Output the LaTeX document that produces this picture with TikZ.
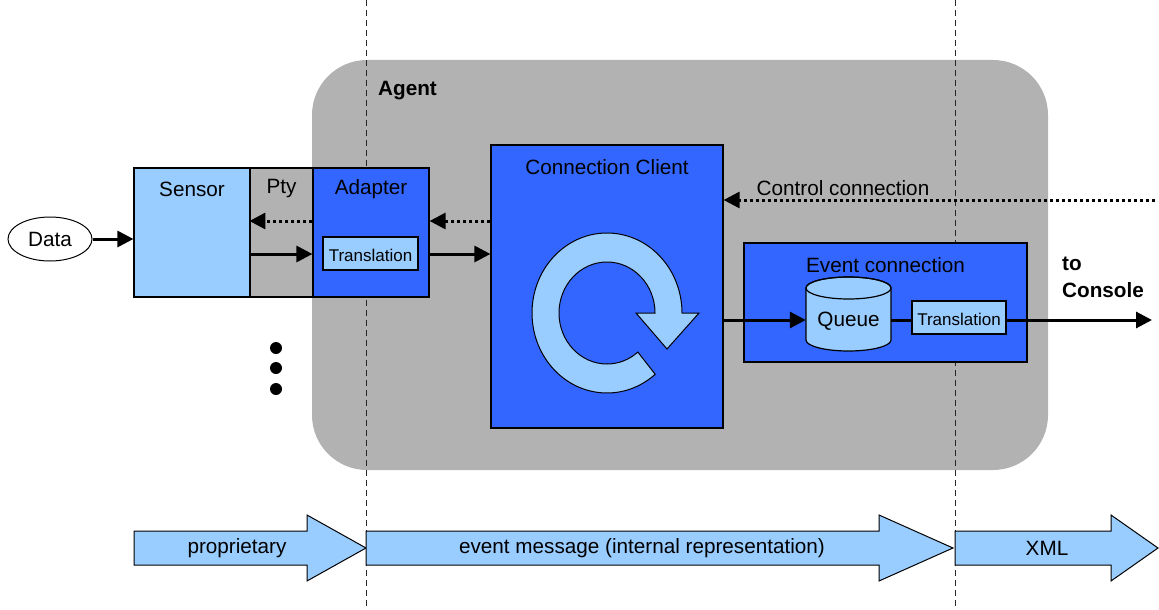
\documentclass[tikz,border=0pt]{standalone}
\usepackage{fontspec}
\setmainfont{Liberation Sans}
\usetikzlibrary{arrows.meta,shapes.geometric}
\definecolor{lblue}{HTML}{99CCFF}
\definecolor{dblue}{HTML}{3366FF}
\definecolor{agray}{HTML}{B2B2B2}
\begin{document}
\begin{tikzpicture}[x=1pt,y=-1pt,
  box/.style={draw=black, line width=1.2pt, inner sep=0pt},
  arr/.style={line width=3pt, -{Triangle[length=16pt,width=16pt]}},
  dotarr/.style={line width=3pt, dash pattern=on 3pt off 3pt, -{Triangle[length=16pt,width=16pt]}},
  plain/.style={line width=3pt},
  txt/.style={font=\fontsize{20.7}{24}\selectfont, inner sep=0pt},
  btxt/.style={font=\fontsize{20.7}{27}\selectfont\bfseries, inner sep=0pt},
  stxt/.style={font=\fontsize{17}{20}\selectfont, inner sep=0pt},
  vdash/.style={line width=1pt, dash pattern=on 6pt off 4pt, black!85},
  flow/.style={draw=black, line width=1pt, fill=lblue},
]
\useasboundingbox (0,0) rectangle (1159,610);

% Agent background
\fill[agray, rounded corners=55pt] (312,60) rectangle (1048,470);

% dashed boundaries
\coordinate (d1t) at (366,0); \coordinate (d1b) at (366,610);
\coordinate (d2t) at (955,0); \coordinate (d2b) at (955,610);
\draw[vdash] (d1t) -- (d1b);
\draw[vdash] (d2t) -- (d2b);

\node[txt, font=\fontsize{20.7}{24}\selectfont\bfseries, anchor=west] (agent) at (378,91) {Agent};

% left boxes
\node[draw=black, line width=1pt, fill=white, ellipse, minimum width=84pt, minimum height=44pt, inner sep=0pt] (data) at (50,239) {};
\node[txt] at (data) {Data};
\node[box, fill=lblue, minimum width=116pt, minimum height=129pt] (sensor) at (192,232.5) {};
\node[box, fill=agray, minimum width=63pt, minimum height=129pt] (pty) at (281.5,232.5) {};
\node[box, fill=dblue, minimum width=116pt, minimum height=129pt] (adapter) at (371,232.5) {};
\node[box, fill=lblue, minimum width=95pt, minimum height=33pt] (trans1) at (370.5,253.5) {};
\node[stxt] at ([yshift=-2pt]trans1.center) {Translation};
\node[txt] at (192,189) {Sensor};
\node[txt] at (281.5,189) {Pty};
\node[txt] at (371,189) {Adapter};

% connection client
\node[box, fill=dblue, minimum width=232pt, minimum height=283pt] (cc) at (607,286.5) {};
\node[txt] at (607,167) {Connection Client};
\filldraw[fill=lblue, draw=black, line width=1pt]
  (655.21,374.28) arc[start angle=50, end angle=360, x radius=75, y radius=80]
  -- (699,313) -- (667,349) -- (636,313) -- (655,313)
  arc[start angle=360, end angle=50, x radius=48, y radius=51] -- cycle;

% event connection
\node[box, fill=dblue, minimum width=283pt, minimum height=119pt] (evt) at (885.5,302.5) {};
\node[txt] at (885.5,265) {Event connection};
\node[inner sep=0pt, minimum width=85pt, minimum height=74pt] (queue) at (848.5,314) {};
\filldraw[fill=lblue, draw=black, line width=1.2pt]
  (806,288) -- (806,340) arc[start angle=180, end angle=0, x radius=42.5, y radius=11]
  -- (891,288) arc[start angle=0, end angle=-180, x radius=42.5, y radius=11] -- cycle;
\draw[line width=1.2pt] (848.5,288) ellipse [x radius=42.5, y radius=11];
\node[txt] at (848.5,321) {Queue};
\node[box, fill=lblue, minimum width=94pt, minimum height=33pt] (trans2) at (959,317.5) {};
\node[stxt] at ([yshift=-2pt]trans2.center) {Translation};

% connectors
\coordinate (ctrl) at (1155,200);
\coordinate (console) at (1152,320);
\draw[arr] (data.east) -- (sensor.west |- data.east);
\draw[dotarr] (adapter.west |- 0,221) -- (pty.west |- 0,221);
\draw[arr] (pty.west |- 0,254) -- (adapter.west |- 0,254);
\draw[dotarr] (cc.west |- 0,221) -- (adapter.east |- 0,221);
\draw[arr] (adapter.east |- 0,254) -- (cc.west |- 0,254);
\draw[dotarr] (ctrl) -- (cc.east |- ctrl);
\node[txt] at (843,188) {Control connection};
\draw[arr] (cc.east |- 0,320) -- (queue.west |- 0,320);
\draw[plain] (queue.east |- 0,320) -- (trans2.west |- 0,320);
\draw[arr] (trans2.east |- console) -- (console);
\node[btxt, align=left, anchor=west] at (1062,277) {to\\Console};

% more sensors
\fill (276,348) circle[radius=6pt];
\fill (276,368) circle[radius=6pt];
\fill (276,389) circle[radius=6pt];

% bottom flow arrows
\filldraw[flow] (134,531) -- (307,531) -- (307,515) -- (366,548) -- (307,581) -- (307,565) -- (134,565) -- cycle;
\filldraw[flow] (366,531) -- (879,531) -- (879,515) -- (953,548) -- (879,581) -- (879,565) -- (366,565) -- cycle;
\filldraw[flow] (955,531) -- (1111,531) -- (1111,515) -- (1158,548) -- (1111,581) -- (1111,565) -- (955,565) -- cycle;
\node[txt] at (237,548) {proprietary};
\node[txt] at (642,548) {event message (internal representation)};
\node[txt] at (1047,548) {XML};
\end{tikzpicture}
\end{document}
